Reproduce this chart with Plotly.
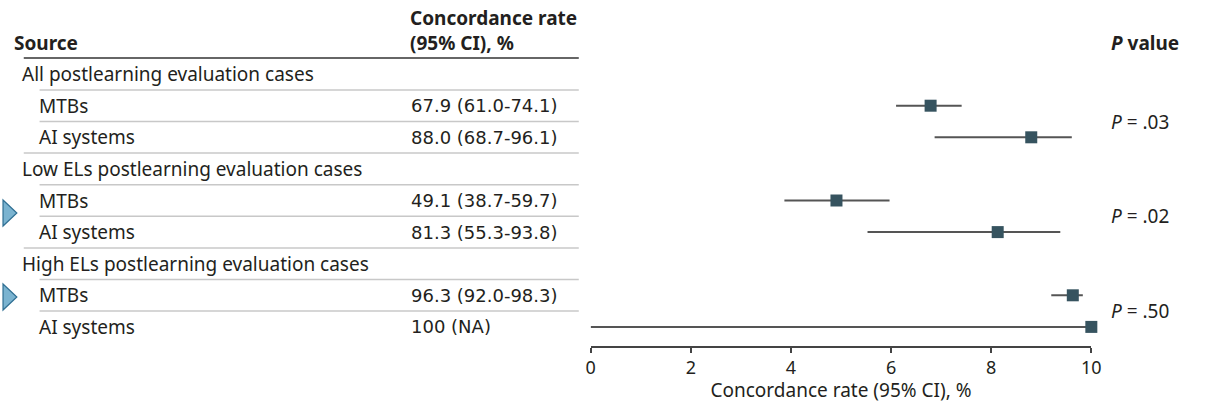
import plotly.graph_objects as go

# ---- data ----
groups = ["All postlearning evaluation cases",
          "Low ELs postlearning evaluation cases",
          "High ELs postlearning evaluation cases"]
sources = ["MTBs", "AI systems"]
rate = [67.9, 88.0, 49.1, 81.3, 96.3, 100.0]
ci_low = [61.0, 68.7, 38.7, 55.3, 92.0, 0.0]
ci_high = [74.1, 96.1, 59.7, 93.8, 98.3, 100.0]
rate_text = ["67.9 (61.0-74.1)", "88.0 (68.7-96.1)", "49.1 (38.7-59.7)",
             "81.3 (55.3-93.8)", "96.3 (92.0-98.3)", "100 (NA)"]
p_values = [".03", ".02", ".50"]
x_ticks = [0, 2, 4, 6, 8, 10]

# ---- layout constants ----
W, H = 1207, 403
ROW0 = 42.5      # pixel y of header row
ROWH = 31.6      # row pitch in px
AXIS_Y = 346.0   # pixel y of x axis line
FONT = "Noto Sans"
NUMFONT = "DejaVu Sans"
FS = 19
TXT = "#231f20"
OFF = 6          # annotation inner offset compensation

def px2k(py):
    return (py - ROW0) / ROWH

def xp(px):
    return px / W

row_k = []
group_k = []
k = 1
for g in groups:
    group_k.append(k)
    k += 1
    for s in sources:
        row_k.append(k)
        k += 1

xv = [r / 10 for r in rate]
err_plus = [(h - r) / 10 for h, r in zip(ci_high, rate)]
err_minus = [(r - l) / 10 for r, l in zip(rate, ci_low)]

fig = go.Figure()
fig.add_trace(go.Scatter(
    x=xv, y=row_k, mode="markers", cliponaxis=False,
    marker=dict(symbol="square", size=12, color="#36535f", line=dict(width=0)),
    error_x=dict(type="data", symmetric=False, array=err_plus, arrayminus=err_minus,
                 color="#555555", thickness=2, width=0),
    showlegend=False, hoverinfo="skip",
))

ann = []
shapes = []

def text(px, k_, s, bold=False, size=FS, family=FONT):
    if bold:
        s = "<b>" + s + "</b>"
    ann.append(dict(x=xp(px - OFF), xref="paper", y=k_, yref="y", text=s, showarrow=False,
                    xanchor="left", yanchor="middle",
                    font=dict(family=family, size=size, color=TXT)))

# headers
text(13, 0, "Source", bold=True)
text(414, px2k(18), "Concordance rate", bold=True)
text(414, 0, "(95% CI), %", bold=True)
text(1124, 0, "<i>P</i> value", bold=True)
shapes.append(dict(type="line", xref="paper", yref="y", x0=xp(19), x1=xp(581),
                   y0=px2k(58), y1=px2k(58), line=dict(color="#333333", width=1.6)))

i = 0
for gi, g in enumerate(groups):
    gk = group_k[gi]
    text(21, gk, g)
    shapes.append(dict(type="line", xref="paper", yref="y", x0=xp(35), x1=xp(581),
                       y0=gk + 0.5, y1=gk + 0.5, line=dict(color="#c8c8c8", width=1.5)))
    for si, s in enumerate(sources):
        rk = row_k[i]
        text(38, rk, s)
        text(415, rk, rate_text[i], size=18, family=NUMFONT)
        last = si == len(sources) - 1
        if not (last and gi == len(groups) - 1):
            shapes.append(dict(type="line", xref="paper", yref="y",
                               x0=xp(19 if last else 35), x1=xp(581),
                               y0=rk + 0.5, y1=rk + 0.5,
                               line=dict(color="#c8c8c8", width=1.5)))
        i += 1
    pk = (row_k[i - 2] + row_k[i - 1]) / 2
    text(1124, pk, "<i>P</i> = " + p_values[gi])

# blue chevrons at the left edge (page decorations)
for cy in (213, 297):
    path = "M {} {} L {} {} L {} {} Z".format(
        xp(-2), 1 - (cy - 13) / H, xp(12), 1 - cy / H, xp(-2), 1 - (cy + 13) / H)
    shapes.append(dict(type="path", xref="paper", yref="paper", path=path,
                       fillcolor="#7ab3d0", line=dict(color="#2f6f93", width=1.2)))

fig.update_layout(
    width=W, height=H,
    margin=dict(l=0, r=0, t=0, b=0),
    paper_bgcolor="white", plot_bgcolor="white",
    annotations=ann, shapes=shapes,
    xaxis=dict(domain=[xp(593), xp(1100)], range=[0, 10],
               tickmode="array", tickvals=x_ticks, ticktext=[str(t) for t in x_ticks],
               showgrid=False, zeroline=False, showline=True, linecolor="#444444",
               linewidth=1.5, ticks="outside", ticklen=5, tickwidth=1.5, tickcolor="#444444",
               tickfont=dict(family=FONT, size=FS - 1, color=TXT),
               title=dict(text="Concordance rate (95% CI), %",
                          font=dict(family=FONT, size=FS, color=TXT), standoff=9),
               fixedrange=True),
    yaxis=dict(domain=[1 - AXIS_Y / H, 1], range=[px2k(AXIS_Y), px2k(0)],
               visible=False, fixedrange=True),
)

fig.write_html("out.html")
